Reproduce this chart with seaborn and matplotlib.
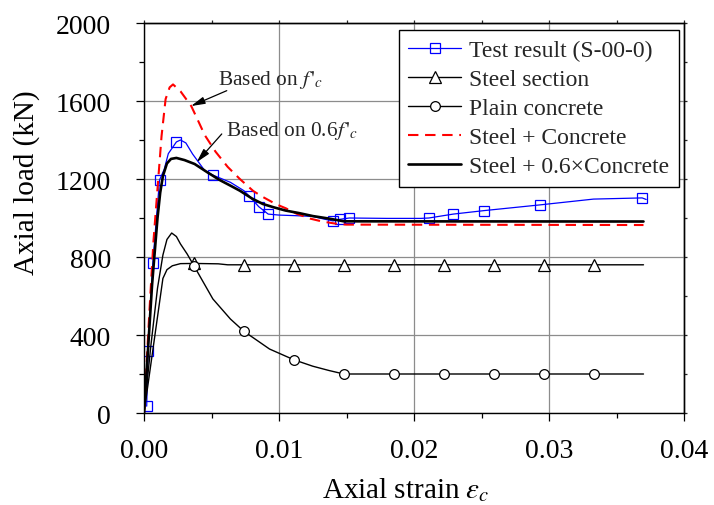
import matplotlib
matplotlib.use("Agg")
import matplotlib.pyplot as plt
import seaborn as sns
import pandas as pd
from matplotlib.ticker import MultipleLocator, FormatStrFormatter

# Measured load-strain response of specimen S-00-0
test_strain = [0.0002, 0.0003, 0.00065, 0.00115, 0.0015, 0.0018, 0.0024, 0.0027, 0.0031,
               0.0036, 0.0045, 0.0051, 0.0058, 0.0064, 0.0074, 0.0078, 0.0085, 0.0092,
               0.0100, 0.0112, 0.0125, 0.0133, 0.0140, 0.0145, 0.0152, 0.0180, 0.0205,
               0.0211, 0.0229, 0.0252, 0.0293, 0.0333, 0.0369, 0.0372]
test_load = [35, 318, 768, 1195, 1250, 1330, 1390, 1400, 1385,
             1328, 1243, 1220, 1200, 1183, 1140, 1112, 1058, 1020,
             1015, 1012, 1008, 995, 985, 993, 1000, 998, 998,
             1000, 1020, 1038, 1067, 1097, 1103, 1095]
test_marks = [0, 1, 2, 3, 6, 11, 15, 16, 17, 22, 23, 24, 27, 28, 29, 30, 32]

# Steel section alone
steel_strain = [0, 0.0014, 0.0017, 0.0021, 0.0027, 0.0037, 0.0055, 0.0062, 0.0074, 0.0111,
                0.0148, 0.0185, 0.0222, 0.0259, 0.0296, 0.0333, 0.0370]
steel_load = [0, 690, 735, 755, 766, 767, 765, 760, 760, 760,
              760, 760, 760, 760, 760, 760, 760]
steel_marks = [5, 8, 9, 10, 11, 12, 13, 14, 15]

# Unconfined (plain) concrete
conc_strain = [0, 0.0005, 0.0010, 0.0014, 0.0017, 0.00205, 0.0024, 0.0027, 0.0032, 0.0037,
               0.0044, 0.0051, 0.0064, 0.0074, 0.0093, 0.0111, 0.0125, 0.0137, 0.0148,
               0.0185, 0.0222, 0.0259, 0.0296, 0.0333, 0.0370]
conc_load = [0, 340, 640, 810, 890, 923, 905, 867, 815, 755,
             670, 585, 482, 419, 328, 273, 240, 218, 200,
             200, 200, 200, 200, 200, 200]
conc_marks = [9, 13, 15, 18, 19, 20, 21, 22, 23]

# Steel + concrete (full f'c)
sum_strain = [0, 0.0004, 0.0007, 0.0010, 0.0013, 0.0016, 0.0019, 0.00215, 0.0027, 0.0035,
              0.0040, 0.0045, 0.0053, 0.0062, 0.0071, 0.0081, 0.0088, 0.0098, 0.0105,
              0.0113, 0.0123, 0.0132, 0.0141, 0.0150, 0.0370]
sum_load = [0, 520, 880, 1150, 1420, 1610, 1670, 1685, 1650, 1574,
            1500, 1425, 1340, 1262, 1200, 1138, 1108, 1070, 1050,
            1022, 997, 982, 972, 966, 964]

# Steel + concrete (0.6 f'c)
red_strain = [0, 0.0003, 0.0006, 0.0010, 0.0012, 0.0014, 0.0017, 0.0020, 0.0024, 0.0030,
              0.00375, 0.0047, 0.0056, 0.0064, 0.0071, 0.0080, 0.0088, 0.0096, 0.0105,
              0.0115, 0.0125, 0.0137, 0.0148, 0.0370]
red_load = [0, 330, 660, 1000, 1130, 1215, 1280, 1303, 1308, 1297,
            1277, 1234, 1195, 1166, 1140, 1100, 1072, 1055, 1038,
            1025, 1010, 997, 983, 982]

legend_labels = ["Test result (S-00-0)", "Steel section", "Plain concrete",
                 "Steel + Concrete", "Steel + 0.6\u00d7Concrete"]

sns.set_theme(style="ticks")
plt.rcParams["font.family"] = ["Liberation Serif", "DejaVu Serif"]
plt.rcParams["mathtext.fontset"] = "stix"

fig = plt.figure(figsize=(7.14, 5.06), dpi=100)
ax = fig.add_axes([144 / 714, 1 - 414 / 506, 540 / 714, 390 / 506])

sns.lineplot(x=test_strain, y=test_load, ax=ax, sort=False, estimator=None,
             color="#0000ff", lw=0.9, marker="s", markersize=6.8,
             markerfacecolor="none", markeredgecolor="#0000ff", markeredgewidth=0.9,
             markevery=test_marks, label=legend_labels[0])
sns.lineplot(x=steel_strain, y=steel_load, ax=ax, sort=False, estimator=None,
             color="black", lw=1.0, marker="^", markersize=8.5,
             markerfacecolor="white", markeredgecolor="black", markeredgewidth=0.9,
             markevery=steel_marks, label=legend_labels[1])
sns.lineplot(x=conc_strain, y=conc_load, ax=ax, sort=False, estimator=None,
             color="black", lw=1.0, marker="o", markersize=7,
             markerfacecolor="white", markeredgecolor="black", markeredgewidth=0.9,
             markevery=conc_marks, label=legend_labels[2])
sns.lineplot(x=sum_strain, y=sum_load, ax=ax, sort=False, estimator=None,
             color="#ff0000", lw=1.5, linestyle=(0, (5, 3.2)), label=legend_labels[3])
sns.lineplot(x=red_strain, y=red_load, ax=ax, sort=False, estimator=None,
             color="black", lw=1.9, label=legend_labels[4])

ax.set_xlim(0, 0.04)
ax.set_ylim(0, 2000)
ax.xaxis.set_major_locator(MultipleLocator(0.01))
ax.xaxis.set_minor_locator(MultipleLocator(0.005))
ax.xaxis.set_major_formatter(FormatStrFormatter("%.2f"))
ax.yaxis.set_major_locator(MultipleLocator(400))
ax.yaxis.set_minor_locator(MultipleLocator(200))

ax.grid(True, which="major", color="#8c8c8c", lw=0.9)
ax.set_axisbelow(True)
for sp in ax.spines.values():
    sp.set_color("black")
    sp.set_linewidth(1.0)

ax.tick_params(which="major", direction="out", length=5.8, width=0.9, color="black",
               labelsize=20, labelcolor="black")
ax.tick_params(which="minor", direction="out", length=3.6, width=0.9, color="black")
ax.tick_params(axis="y", which="major", pad=18)
ax.tick_params(axis="x", which="major", pad=12)

# short outward ticks on the top and right frame
top = ax.secondary_xaxis("top")
top.xaxis.set_major_locator(MultipleLocator(0.01))
top.xaxis.set_minor_locator(MultipleLocator(0.005))
top.tick_params(which="both", direction="out", length=2.2, width=0.9, labeltop=False)
top.spines["top"].set_linewidth(1.0)
right = ax.secondary_yaxis("right")
right.yaxis.set_major_locator(MultipleLocator(400))
right.yaxis.set_minor_locator(MultipleLocator(200))
right.tick_params(which="both", direction="out", length=2.2, width=0.9, labelright=False)
right.spines["right"].set_linewidth(1.0)

ax.set_xlabel(r"Axial strain $\varepsilon_c$", fontsize=21, color="black")
ax.set_ylabel("Axial load (kN)", fontsize=21, color="black")
ax.xaxis.set_label_coords(0.485, -0.16)
ax.yaxis.set_label_coords(-0.193, 0.592)

ax.text(0.00551, 1687, r"Based on $f\,'_{c}$", fontsize=15.4, va="baseline", ha="left")
ax.text(0.0061, 1426, r"Based on 0.6$f\,'_{c}$", fontsize=15.4, va="baseline", ha="left")
arrow = dict(arrowstyle="-|>,head_length=0.7,head_width=0.18", color="black", lw=0.9,
             shrinkA=0, shrinkB=0)
ax.annotate("", xy=(0.00348, 1574), xytext=(0.00613, 1653), arrowprops=arrow)
ax.annotate("", xy=(0.0039, 1286), xytext=(0.00576, 1431), arrowprops=arrow)

leg = ax.legend(loc="upper right", bbox_to_anchor=(0.9907, 0.982), borderaxespad=0,
                fontsize=17, frameon=True, fancybox=False, framealpha=1,
                edgecolor="black", handlelength=2.25, handletextpad=0.35,
                labelspacing=0.32, borderpad=0.4)
leg.get_frame().set_linewidth(1.0)

fig.savefig("out.png", dpi=100)
